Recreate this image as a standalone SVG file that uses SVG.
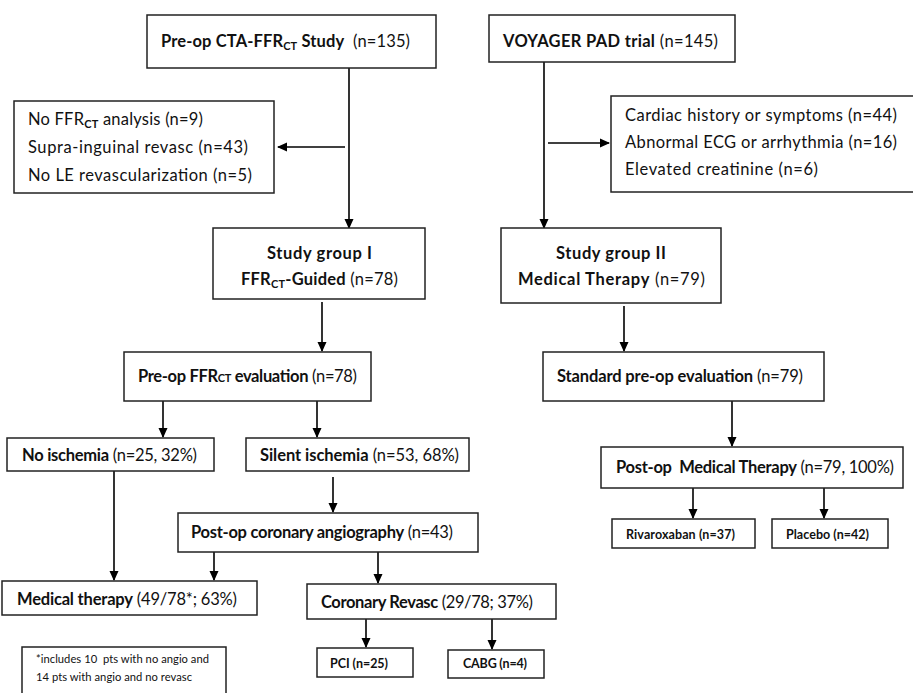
<svg xmlns="http://www.w3.org/2000/svg" width="913" height="693" viewBox="0 0 913 693">
<style>
.box{fill:#fff;stroke:#222;stroke-width:1.5}
.t{font-family:Lato,"Liberation Sans",sans-serif;font-size:16.5px;fill:#111}
.b{font-weight:bold}
.s{font-size:11px;font-weight:bold}
.sm{font-family:Lato,"Liberation Sans",sans-serif;font-size:12.5px;font-weight:bold;fill:#111}
.fn{font-family:Lato,"Liberation Sans",sans-serif;font-size:11.2px;fill:#111}
.c{fill:none;stroke:#000;stroke-width:1.6}
</style>
<defs>
<marker id="ah" markerWidth="10" markerHeight="10" refX="9" refY="5" orient="auto" markerUnits="userSpaceOnUse"><path d="M0,0.5 L10,5 L0,9.5 z" fill="#000"/></marker>
</defs>
<rect width="913" height="693" fill="#fff"/>
<g id="connectors">
<path class="c" d="M349,68 V228" marker-end="url(#ah)"/>
<path class="c" d="M345,147 H278" marker-end="url(#ah)"/>
<path class="c" d="M544,62 V228" marker-end="url(#ah)"/>
<path class="c" d="M548,143 H609" marker-end="url(#ah)"/>
<path class="c" d="M322,302 V351" marker-end="url(#ah)"/>
<path class="c" d="M624,306 V351" marker-end="url(#ah)"/>
<path class="c" d="M163,401 V437" marker-end="url(#ah)"/>
<path class="c" d="M317,401 V437" marker-end="url(#ah)"/>
<path class="c" d="M333,477 V512" marker-end="url(#ah)"/>
<path class="c" d="M732,401 V446" marker-end="url(#ah)"/>
<path class="c" d="M693,488 V518" marker-end="url(#ah)"/>
<path class="c" d="M824,488 V518" marker-end="url(#ah)"/>
<path class="c" d="M114,471 V580" marker-end="url(#ah)"/>
<path class="c" d="M214,552 V580" marker-end="url(#ah)"/>
<path class="c" d="M378,552 V583" marker-end="url(#ah)"/>
<path class="c" d="M366,619 V647" marker-end="url(#ah)"/>
<path class="c" d="M492,619 V649" marker-end="url(#ah)"/>
</g>
<g id="n-cta">
<rect class="box" x="147" y="15" width="289" height="53"/>
<text class="t" x="161" y="47" textLength="249"><tspan class="b">Pre-op CTA-FFR</tspan><tspan class="s" dy="3">CT</tspan><tspan class="b" dy="-3"> Study</tspan>&#160; (n=135)</text>
</g>
<g id="n-excl1">
<rect class="box" x="14" y="101" width="260" height="92"/>
<text class="t" x="28" y="125" textLength="175">No FFR<tspan class="s" dy="3">CT</tspan><tspan dy="-3"> analysis (n=9)</tspan></text>
<text class="t" x="28" y="153" textLength="220">Supra-inguinal revasc (n=43)</text>
<text class="t" x="28" y="181" textLength="224">No LE revascularization (n=5)</text>
</g>
<g id="n-voyager">
<rect class="box" x="489" y="15" width="246" height="47"/>
<text class="t" x="503" y="47" textLength="215"><tspan class="b">VOYAGER PAD trial</tspan> (n=145)</text>
</g>
<g id="n-excl2">
<rect class="box" x="611" y="96" width="310" height="96"/>
<text class="t" x="625" y="121" textLength="272">Cardiac history or symptoms (n=44)</text>
<text class="t" x="625" y="148" textLength="272">Abnormal ECG or arrhythmia (n=16)</text>
<text class="t" x="625" y="175" textLength="193">Elevated creatinine (n=6)</text>
</g>
<g id="n-sg1">
<rect class="box" x="213" y="228" width="212" height="71"/>
<text class="t b" x="267" y="259" textLength="105">Study group I</text>
<text class="t" x="241" y="285" textLength="157"><tspan class="b">FFR</tspan><tspan class="s" dy="3">CT</tspan><tspan class="b" dy="-3">-Guided</tspan> (n=78)</text>
</g>
<g id="n-sg2">
<rect class="box" x="501" y="228" width="220" height="75"/>
<text class="t b" x="556" y="259" textLength="110">Study group II</text>
<text class="t" x="518" y="285" textLength="187"><tspan class="b">Medical Therapy</tspan> (n=79)</text>
</g>
<g id="n-ffreval">
<rect class="box" x="124" y="352" width="247" height="49"/>
<text class="t" x="138" y="382" textLength="219"><tspan class="b">Pre-op FFR</tspan><tspan class="s">CT</tspan><tspan class="b"> evaluation</tspan> (n=78)</text>
</g>
<g id="n-stdeval">
<rect class="box" x="543" y="352" width="281" height="49"/>
<text class="t" x="557" y="382" textLength="246"><tspan class="b">Standard pre-op evaluation</tspan> (n=79)</text>
</g>
<g id="n-noisch">
<rect class="box" x="7" y="438" width="207" height="33"/>
<text class="t" x="22" y="461" textLength="175"><tspan class="b">No ischemia</tspan> (n=25, 32%)</text>
</g>
<g id="n-silent">
<rect class="box" x="246" y="438" width="223" height="33"/>
<text class="t" x="260" y="461" textLength="199"><tspan class="b">Silent ischemia</tspan> (n=53, 68%)</text>
</g>
<g id="n-postangio">
<rect class="box" x="178" y="513" width="300" height="39"/>
<text class="t" x="191" y="538" textLength="262"><tspan class="b">Post-op coronary angiography</tspan> (n=43)</text>
</g>
<g id="n-postmed">
<rect class="box" x="601" y="447" width="302" height="41"/>
<text class="t" x="616" y="473" textLength="278"><tspan class="b">Post-op&#160; Medical Therapy</tspan> (n=79, 100%)</text>
</g>
<g id="n-riva">
<rect class="box" x="612" y="519" width="143" height="29"/>
<text class="sm" x="626" y="539" textLength="109">Rivaroxaban (n=37)</text>
</g>
<g id="n-placebo">
<rect class="box" x="772" y="519" width="116" height="29"/>
<text class="sm" x="786" y="539" textLength="83">Placebo (n=42)</text>
</g>
<g id="n-medther">
<rect class="box" x="2" y="581" width="255" height="34"/>
<text class="t" x="17" y="605" textLength="220"><tspan class="b">Medical therapy</tspan> (49/78*; 63%)</text>
</g>
<g id="n-correv">
<rect class="box" x="307" y="584" width="249" height="35"/>
<text class="t" x="321" y="608" textLength="212"><tspan class="b">Coronary Revasc</tspan> (29/78; 37%)</text>
</g>
<g id="n-pci">
<rect class="box" x="317" y="648" width="96" height="29"/>
<text class="sm" x="330" y="668" textLength="58">PCI (n=25)</text>
</g>
<g id="n-cabg">
<rect class="box" x="448" y="650" width="96" height="28"/>
<text class="sm" x="463" y="668" textLength="64">CABG (n=4)</text>
</g>
<g id="n-footnote">
<rect class="box" x="22" y="647" width="204" height="60"/>
<text class="fn" x="36" y="663" textLength="173">*includes 10&#160; pts with no angio and</text>
<text class="fn" x="36" y="681" textLength="156">14 pts with angio and no revasc</text>
</g>
</svg>
